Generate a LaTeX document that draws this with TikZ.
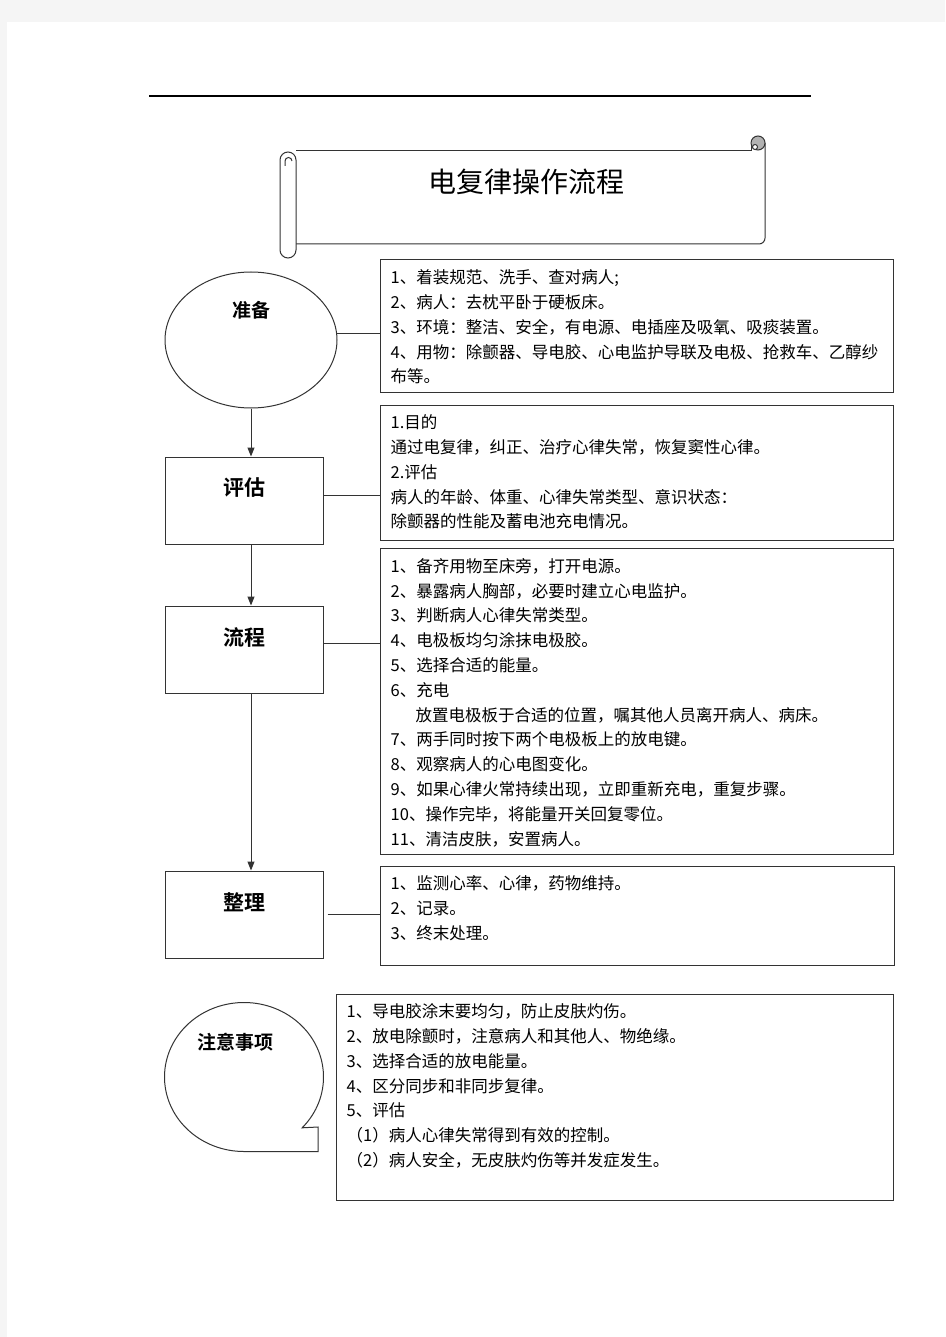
\documentclass[tikz,border=0pt]{standalone}
\usepackage{fontspec}
\setmainfont{Noto Sans CJK SC}[BoldFont={Noto Sans CJK SC Bold}]
\usetikzlibrary{arrows.meta,shapes.geometric,positioning}

\begin{document}
\begin{tikzpicture}[x=1pt,y=1pt,
    link/.style={draw=black!80, line width=1pt},
    arr/.style={link, -{Triangle[length=9pt,width=7pt]}},
    stagebox/.style={link, minimum width=158, minimum height=87, inner sep=0},
    infobox/.style={link, inner sep=0},
    infotext/.style={anchor=north west, inner sep=0, align=left, font=\fontsize{16.5}{24.8}\selectfont},
    stagelabel/.style={inner sep=0, font=\fontsize{21}{21}\selectfont\bfseries}]

    % page
    \fill[black!4] (0,0) rectangle (945,-1337);
    \fill[white] (7,-22) rectangle (945,-1337);
    \useasboundingbox (0,0) rectangle (945,-1337);
    \draw[line width=1.2pt] (149,-96) -- (811,-96);

    % scroll with the title
    \draw[link, fill=white] (296,-151) -- (751,-151) -- (751,-144);
    \draw[link] (765,-143) -- (765,-238) arc[start angle=0, end angle=-90, radius=6] -- (296,-244);
    \draw[link, fill=black!30] (758,-143) circle[radius=7];
    \draw[link, fill=white] (755,-147) circle[radius=2.5];
    \draw[link, fill=white] (296,-160) -- (296,-250) arc[start angle=0, end angle=-180, radius=8] -- (280,-160) arc[start angle=180, end angle=0, radius=8];
    \draw[link] (292,-161) arc[start angle=0, end angle=180, radius=3.5] -- (285,-166);
    \node[inner sep=0, font=\fontsize{28}{28}\selectfont] (title) at (526,-182) {电复律操作流程};

    % stages
    \node[link, ellipse, minimum width=172, minimum height=136, inner sep=0] (prep) at (251,-340) {};
    \node[stagelabel, font=\fontsize{19}{19}\selectfont\bfseries] (preplabel) at (251,-310) {准备};
    \node[stagebox] (assess) at (244,-500.5) {};
    \node[stagelabel] (assesslabel) at (244,-488) {评估};
    \node[stagebox] (proc) at (244,-649.5) {};
    \node[stagelabel] (proclabel) at (244,-637) {流程};
    \node[stagebox] (tidy) at (244,-914.5) {};
    \node[stagelabel] (tidylabel) at (244,-902) {整理};

    % boxes with the steps
    \node[infobox, minimum width=513, minimum height=132] (info1) at (636.5,-326) {};
    \node[infobox, minimum width=513, minimum height=135] (info2) at (636.5,-472.5) {};
    \node[infobox, minimum width=513, minimum height=306] (info3) at (636.5,-701) {};
    \node[infobox, minimum width=514, minimum height=99] (info4) at (637,-915.5) {};
    \node[infobox, minimum width=557, minimum height=206] (info5) at (614.5,-1097) {};

    \node[infotext] (text1) at ([shift={(11,-10)}]info1.north west) {1、着装规范、洗手、查对病人;\\2、病人：去枕平卧于硬板床。\\3、环境：整洁、安全，有电源、电插座及吸氧、吸痰装置。\\4、用物：除颤器、导电胶、心电监护导联及电极、抢救车、乙醇纱\\布等。};
    \node[infotext] (text2) at ([shift={(11,-10)}]info2.north west) {1.目的\\通过电复律，纠正、治疗心律失常，恢复窦性心律。\\2.评估\\病人的年龄、体重、心律失常类型、意识状态：\\除颤器的性能及蓄电池充电情况。};
    \node[infotext] (text3) at ([shift={(11,-10.5)}]info3.north west) {1、备齐用物至床旁，打开电源。\\2、暴露病人胸部，必要时建立心电监护。\\3、判断病人心律失常类型。\\4、电极板均匀涂抹电极胶。\\5、选择合适的能量。\\6、充电\\\hspace*{25pt}放置电极板于合适的位置，嘱其他人员离开病人、病床。\\7、两手同时按下两个电极板上的放电键。\\8、观察病人的心电图变化。\\9、如果心律火常持续出现，立即重新充电，重复步骤。\\10、操作完毕，将能量开关回复零位。\\11、清洁皮肤，安置病人。};
    \node[infotext] (text4) at ([shift={(11,-10)}]info4.north west) {1、监测心率、心律，药物维持。\\2、记录。\\3、终末处理。};
    \node[infotext] (text5) at ([shift={(11,-10)}]info5.north west) {1、导电胶涂末要均匀，防止皮肤灼伤。\\2、放电除颤时，注意病人和其他人、物绝缘。\\3、选择合适的放电能量。\\4、区分同步和非同步复律。\\5、评估\\（1）病人心律失常得到有效的控制。\\（2）病人安全，无皮肤灼伤等并发症发生。};

    % links
    \draw[link] (prep.4) -- (prep.4 -| info1.west);
    \draw[link] ([yshift=5]assess.east) -- ([yshift=5]assess.east -| info2.west);
    \draw[link] ([yshift=6]proc.east) -- ([yshift=6]proc.east -| info3.west);
    \draw[link] ([xshift=4]tidy.east) -- (tidy.east -| info4.west);
    \draw[arr] (prep.south) -- (prep.south |- assess.north);
    \draw[arr] ([xshift=7]assess.south) -- ([xshift=7]proc.north);
    \draw[arr] ([xshift=7]proc.south) -- ([xshift=7]tidy.north);

    % speech bubble
    \draw[link] (244,-1077) ++(-43:79.5 and 74.5) arc[start angle=-43, end angle=270, x radius=79.5, y radius=74.5] -- (318,-1151.5) -- (318,-1127) -- cycle;
    \node[stagelabel, font=\fontsize{19}{19}\selectfont\bfseries] (notelabel) at (235,-1042) {注意事项};
\end{tikzpicture}
\end{document}
